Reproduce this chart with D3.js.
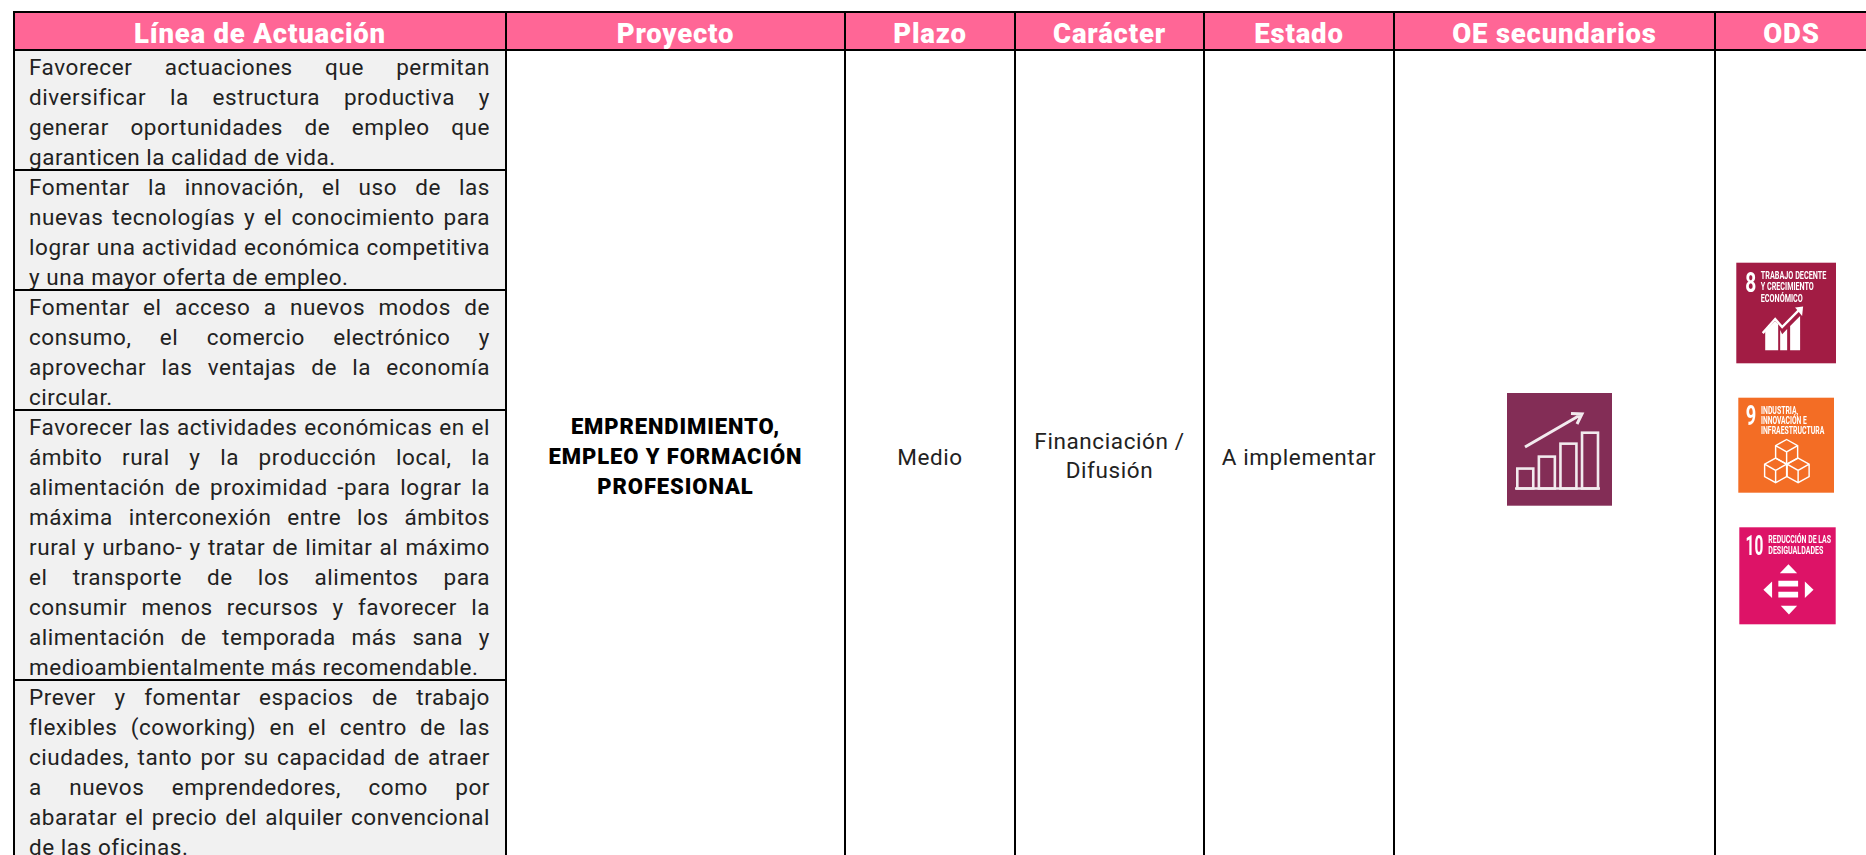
<!DOCTYPE html>
<html lang="es"><head><meta charset="utf-8">
<script src="https://cdnjs.cloudflare.com/ajax/libs/d3/7.8.5/d3.min.js"></script>
<style>html,body{margin:0;background:#fff;overflow:hidden}svg{display:block}</style></head>
<body><svg id="c" width="1866" height="855"></svg>
<script>
const columns=["Línea de Actuación","Proyecto","Plazo","Carácter","Estado","OE secundarios","ODS"];
const lineasActuacion=[
["Favorecer actuaciones que permitan","diversificar la estructura productiva y","generar oportunidades de empleo que","garanticen la calidad de vida."],
["Fomentar la innovación, el uso de las","nuevas tecnologías y el conocimiento para","lograr una actividad económica competitiva","y una mayor oferta de empleo."],
["Fomentar el acceso a nuevos modos de","consumo, el comercio electrónico y","aprovechar las ventajas de la economía","circular."],
["Favorecer las actividades económicas en el","ámbito rural y la producción local, la","alimentación de proximidad -para lograr la","máxima interconexión entre los ámbitos","rural y urbano- y tratar de limitar al máximo","el transporte de los alimentos para","consumir menos recursos y favorecer la","alimentación de temporada más sana y","medioambientalmente más recomendable."],
["Prever y fomentar espacios de trabajo","flexibles (coworking) en el centro de las","ciudades, tanto por su capacidad de atraer","a nuevos emprendedores, como por","abaratar el precio del alquiler convencional","de las oficinas."]];
const proyecto=["EMPRENDIMIENTO,","EMPLEO Y FORMACIÓN","PROFESIONAL"];
const plazo=["Medio"];
const caracter=["Financiación /","Difusión"];
const estado=["A implementar"];
const ods=[
 {n:"8",t:["TRABAJO DECENTE","Y CRECIMIENTO","ECONÓMICO"]},
 {n:"9",t:["INDUSTRIA,","INNOVACIÓN E","INFRAESTRUCTURA"]},
 {n:"10",t:["REDUCCIÓN DE LAS","DESIGUALDADES"]}];
const oeBarras=[20,32,45,56];

const svg=d3.select("#c");
const BODY="Roboto, sans-serif";
const x=d3.scaleOrdinal().domain(columns).range([14,506,845,1015,1204,1394,1715]);
const xEnd=d3.scaleOrdinal().domain(columns).range([506,845,1015,1204,1394,1715,1868]);
const cx=c=>(x(c)+xEnd(c))/2;
const lh=30, topY=12, headBottom=50;
const y=d3.scaleLinear().domain([0,1]).range([headBottom,headBottom+lh]);

let acc=0; const rows=lineasActuacion.map(l=>{const r={lines:l,start:acc};acc+=l.length;return r;});

svg.append("rect").attr("x",14).attr("y",topY).attr("width",1852).attr("height",headBottom-topY).attr("fill","#ff6696");
svg.append("g").selectAll("text").data(columns).join("text")
 .attr("x",cx).attr("y",42.5).attr("text-anchor","middle")
 .attr("font-family",BODY).attr("font-weight",900).attr("font-size",27.5).attr("letter-spacing",0.8).attr("fill","#fff").text(d=>d);

svg.append("g").selectAll("rect").data(rows).join("rect")
 .attr("x",14).attr("width",492).attr("y",d=>y(d.start)+1)
 .attr("height",d=>d.lines.length*lh+1).attr("fill","#f1f1f1");

const tw=490-29;
const g=svg.append("g").attr("font-family",BODY).attr("font-size",22.5).attr("letter-spacing",0.55).attr("fill","#222");
rows.forEach(r=>r.lines.forEach((ln,i)=>{
 const base=y(r.start+i)+25;
 const last=i===r.lines.length-1;
 const t=g.append("text").attr("x",29).attr("y",base).text(ln);
 const w=t.node().getComputedTextLength();
 const gaps=ln.split(" ").length-1;
 if(!last && gaps>0) t.attr("word-spacing",(tw-w)/gaps);
}));

const B="#000";
const hl=[topY,headBottom].concat(rows.map(r=>y(r.start+r.lines.length)));
svg.append("g").selectAll("line").data(hl).join("line")
 .attr("x1",14).attr("x2",(d,i)=>i<2?1866:506)
 .attr("y1",d=>d).attr("y2",d=>d).attr("stroke",B).attr("stroke-width",2);
svg.append("g").selectAll("line").data(columns).join("line")
 .attr("x1",d=>x(d)).attr("x2",d=>x(d)).attr("y1",topY-1).attr("y2",855).attr("stroke",B).attr("stroke-width",2);

const centre=(col,lines,ys,attrs)=>{
 svg.append("g").selectAll("text").data(lines).join("text")
  .attr("x",cx(col)).attr("y",(d,i)=>ys+i*attrs.step).attr("text-anchor","middle")
  .attr("font-family",BODY).attr("font-size",attrs.size).attr("font-weight",attrs.weight)
  .attr("letter-spacing",attrs.ls).attr("fill",attrs.fill).text(d=>d);
};
centre("Proyecto",proyecto,434,{step:30,size:22,weight:900,ls:0.9,fill:"#000"});
const reg={step:28.5,size:22.5,weight:400,ls:0.6,fill:"#222"};
centre("Plazo",plazo,465,reg);
centre("Carácter",caracter,449,reg);
centre("Estado",estado,465,reg);

const soft=svg.append("defs").append("filter").attr("id","soft").attr("x","-20%").attr("y","-20%").attr("width","140%").attr("height","140%");
soft.append("feGaussianBlur").attr("stdDeviation",0.45);

const oe=svg.append("g").attr("transform","translate(1507,393)");
oe.append("rect").attr("width",105).attr("height",112.7).attr("fill","#832d56");
const oeI=oe.append("g").attr("filter","url(#soft)").attr("fill","none").attr("stroke","#f2eaee").attr("stroke-width",2.6);
const bx=d3.scaleBand().domain(oeBarras).range([10.3,91]).paddingInner(0.26);
const by=d3.scaleLinear().domain([0,56]).range([95.5,39.7]);
oeI.selectAll("rect").data(oeBarras).join("rect").attr("x",d=>bx(d)).attr("width",bx.bandwidth())
 .attr("y",d=>by(d)).attr("height",d=>95.5-by(d));
oeI.append("line").attr("x1",8).attr("x2",93).attr("y1",95.5).attr("y2",95.5);
oeI.append("path").attr("stroke-width",3).attr("d","M18 54L75 21M64 20.5L75 21L70 31");

const odsBox=[{x:1736.3,y:262.7,w:99.7,h:100.6,fill:"#a21c44"},{x:1738.3,y:397.7,w:95.7,h:95,fill:"#f36d25"},{x:1739.3,y:527.3,w:96.4,h:97,fill:"#dd1367"}];
const NARROW="'Liberation Sans Narrow', 'Roboto', sans-serif";
ods.forEach((o,i)=>{
 const b=odsBox[i];
 const a=svg.append("g").attr("transform",`translate(${b.x},${b.y})`);
 a.append("rect").attr("width",b.w).attr("height",b.h).attr("fill",b.fill);
 const s=a.append("g").attr("filter","url(#soft)").attr("fill","#fff");
 s.append("text").attr("x",[9,7.5,6.3][i]).attr("y",[29,27.5,27.7][i]).attr("font-family",NARROW).attr("font-weight",700).attr("font-size",27.5).text(o.n)
   .attr("textLength",[11,10.5,17.7][i]).attr("lengthAdjust","spacingAndGlyphs");
 const tx=[24.5,22.7,29][i], ty=[[16.6,27.6,39],[16.3,26.5,36.7],[15.3,27]][i], widths=[[65.5,53,42],[37.3,45.7,63.3],[62.7,55]][i];
 o.t.forEach((t,k)=>s.append("text").attr("x",tx).attr("y",ty[k]).attr("font-family",NARROW).attr("font-weight",700)
   .attr("font-size",11.5).attr("textLength",widths[k]).attr("lengthAdjust","spacingAndGlyphs").text(t));
 const sc=a.append("g").attr("filter","url(#soft)").attr("transform",`scale(${b.w/100},${b.h/100})`);
 if(i===0){
  sc.append("path").attr("fill","#fff").attr("d","M29 87V68L39 58L42 61V87ZM44 87V67L46 71L51 66V87ZM54 87V63L64 53V87Z");
  sc.append("path").attr("fill","none").attr("stroke","#fff").attr("stroke-width",2.4).attr("d","M26.5 70L39 56L46 64L64 46");
  sc.append("path").attr("fill","#fff").attr("d","M59 44.5L67 43.5L66 53Z");
 }
 if(i===1){
  const hex=(c,m)=>{const r=11.5,h=6.6;
   const p=d3.path();
   p.moveTo(c,m-13);p.lineTo(c+r,m-h);p.lineTo(c+r,m+h);p.lineTo(c,m+13);p.lineTo(c-r,m+h);p.lineTo(c-r,m-h);p.closePath();
   p.moveTo(c-r,m-h);p.lineTo(c,m);p.lineTo(c+r,m-h);p.moveTo(c,m);p.lineTo(c,m+13);
   return p.toString();};
  sc.selectAll("path").data([[50.5,57],[39,76.5],[62.5,76.5]]).join("path").attr("d",d=>hex(d[0],d[1]))
   .attr("fill","none").attr("stroke","#fff").attr("stroke-width",1.5);
 }
 if(i===2){
  sc.append("path").attr("fill","#fff").attr("d","M51 38L42 47.5H60ZM51.5 90L43 81H60ZM25 64.5L34 56V73ZM77 64.5L68 56V73ZM40.5 55H61V61H40.5ZM40.5 66.5H61V72.5H40.5Z");
 }
});
</script></body></html>
